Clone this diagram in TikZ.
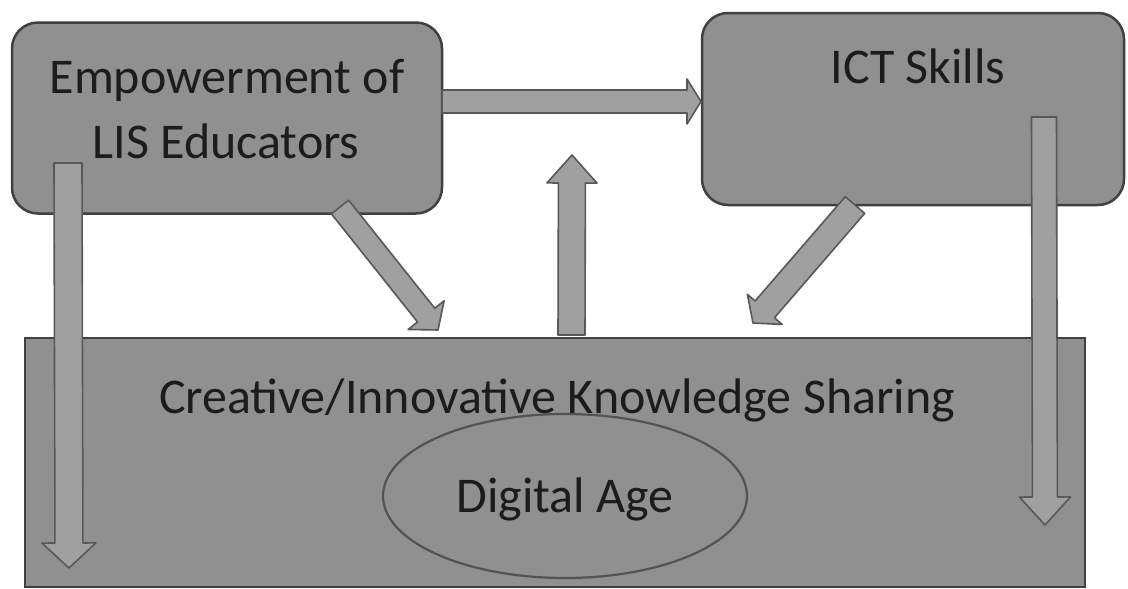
\documentclass[tikz,border=0pt]{standalone}
\usepackage{fontspec}
\setmainfont{Carlito}
\usetikzlibrary{calc,shapes.geometric}
\definecolor{boxfill}{HTML}{909090}
\definecolor{boxline}{HTML}{404040}
\definecolor{arrfill}{HTML}{A0A0A0}
\definecolor{arrline}{HTML}{585858}
\definecolor{txt}{HTML}{1C1C1C}
\newcommand\blkarrow[5]{%
  \path let \p1=(#1), \p2=(#2), \n1={atan2(\y2-\y1,\x2-\x1)}, \n2={veclen(\x2-\x1,\y2-\y1)} in
    \pgfextra{\xdef\bAang{\n1}\xdef\bAlen{\n2}\xdef\bAx{\x1}\xdef\bAy{\y1}};
  \begin{scope}[shift={(\bAx,\bAy)}, rotate=\bAang]
    \draw[blk] (0pt,-#3) -- ({\bAlen-#5},-#3) -- ({\bAlen-#5},-#4) -- (\bAlen,0pt)
      -- ({\bAlen-#5},#4) -- ({\bAlen-#5},#3) -- (0pt,#3) -- cycle;
  \end{scope}}
\begin{document}
\begin{tikzpicture}[x=1pt,y=-1pt,
  box/.style={draw=boxline, fill=boxfill, line width=2.5pt},
  blk/.style={draw=arrline, fill=arrfill, line width=1.6pt, line join=round},
  lbl/.style={text=txt, font=\fontsize{50}{60}\selectfont, inner sep=0pt, anchor=base}]
\useasboundingbox (0,0) rectangle (1128,589);
\fill[white] (0,0) rectangle (1128,589);
% boxes
\node[box, rounded corners=26pt, minimum width=430pt, minimum height=191pt, inner sep=0pt] (emp) at (227,118) {};
\node[box, rounded corners=26pt, minimum width=422pt, minimum height=192pt, inner sep=0pt] (ict) at (913,109) {};
\node[box, minimum width=1060pt, minimum height=249pt, inner sep=0pt] (cks) at (555,462.5) {};
\node[draw=boxline!90, line width=2.2pt, ellipse, minimum width=364pt, minimum height=164pt, inner sep=0pt] (dig) at (565,496) {};
% labels
\node[lbl] (empA) at (227,93) {Empowerment of};
\node[lbl] (empB) at (226,158) {LIS Educators};
\node[lbl] (ictT) at (918,83) {ICT Skills};
\node[lbl] (cksT) at (557,413) {Creative/Innovative Knowledge Sharing};
\node[lbl] (digT) at (565,512) {Digital Age};
% arrow end points
\coordinate (h1) at (442,101.5);
\coordinate (h2) at (701,101.5);
\coordinate (l1) at (68,163);
\coordinate (l2) at (69,568);
\coordinate (r1) at (1044,117);
\coordinate (r2) at (1045,525);
\coordinate (d1) at (340,207);
\coordinate (d2) at (438,330);
\coordinate (u1) at (571.5,335);
\coordinate (u2) at (572,155);
\coordinate (e1) at (855,205);
\coordinate (e2) at (753,323);
% block arrows
\blkarrow{h1}{h2}{11.5pt}{22.5pt}{14pt}
\blkarrow{l1}{l2}{14pt}{27pt}{25pt}
\blkarrow{r1}{r2}{12.5pt}{25.5pt}{28pt}
\blkarrow{d1}{d2}{11pt}{23pt}{19pt}
\blkarrow{u1}{u2}{13.5pt}{25pt}{28pt}
\blkarrow{e1}{e2}{12.8pt}{23pt}{18pt}
\end{tikzpicture}
\end{document}
